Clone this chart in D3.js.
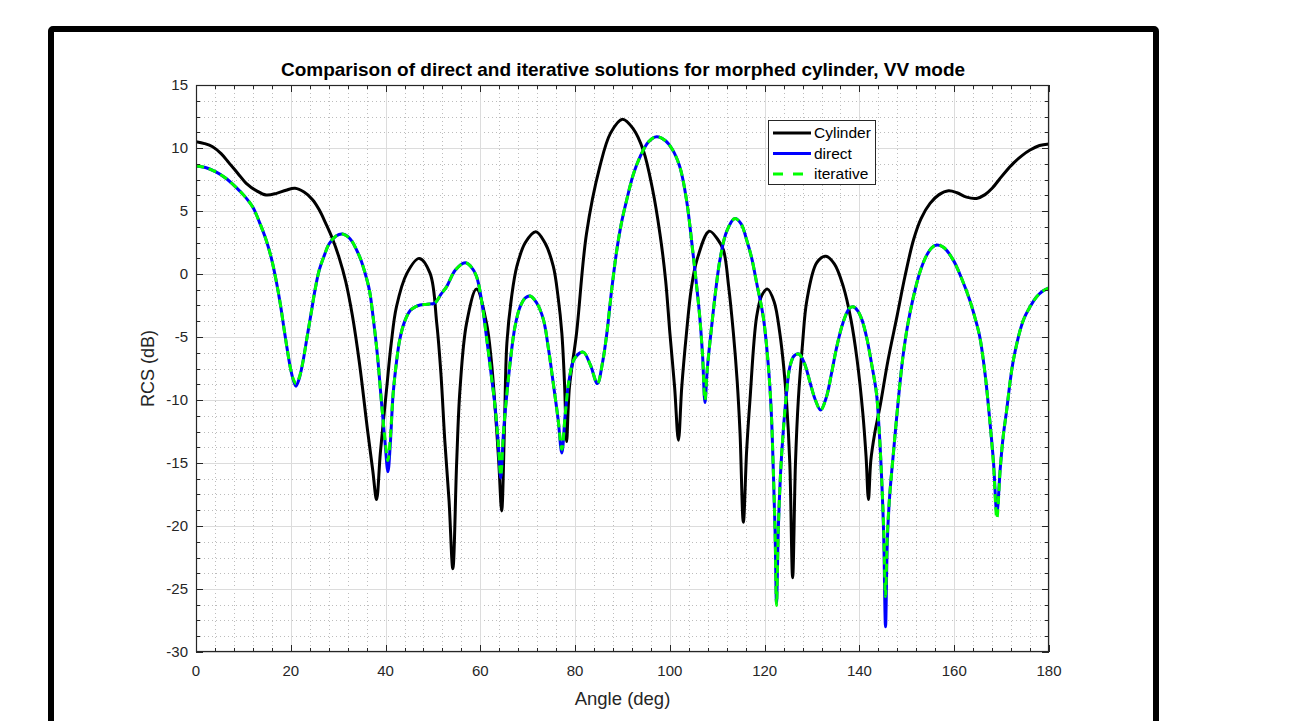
<!DOCTYPE html>
<html>
<head>
<meta charset="utf-8">
<script src="https://cdn.jsdelivr.net/npm/d3@7"></script>
<style>
  html, body { margin: 0; padding: 0; background: #ffffff; }
  svg { display: block; }
  text { font-family: "Liberation Sans", Arial, Helvetica, sans-serif; }
</style>
</head>
<body>
<svg id="chart" width="1302" height="721"></svg>
<script>
// ---------------- data ----------------
const titleText = "Comparison of direct and iterative solutions for morphed cylinder, VV mode";
const xLabelText = "Angle (deg)";
const yLabelText = "RCS (dB)";
const seriesNames = ["Cylinder", "direct", "iterative"];
const xTicks = [0, 20, 40, 60, 80, 100, 120, 140, 160, 180];
const yTicks = [-30, -25, -20, -15, -10, -5, 0, 5, 10, 15];

const cylAngle = [0, 1.8, 3.5, 5.3, 7, 8.8, 10.6, 12.8, 14.8, 17, 19, 20.9, 22.8, 24.6, 26, 27.4, 28.8, 30.2, 31.6, 33, 34.5, 36.2, 37.3, 38.1, 38.9, 40.2, 41.2, 42.3, 44.5, 47.1, 49.4, 50.8, 51.7, 52.5, 53.4, 54.2, 55, 55.7, 57.1, 59.2, 61.3, 62.3, 63.1, 63.9, 64.5, 65.1, 65.6, 66.6, 67.7, 69.5, 71.7, 73.6, 75.4, 76.4, 77.2, 77.8, 78.2, 78.8, 80.3, 82.4, 85.2, 87.5, 90, 92.3, 94.4, 96.3, 97.9, 99.1, 100, 101, 101.8, 102.5, 103.5, 104.5, 105.7, 108.3, 110, 111.3, 112.4, 113.4, 114.2, 114.8, 115.5, 116.2, 116.9, 118.3, 119.4, 120.6, 122, 123.2, 124, 124.6, 125.3, 125.9, 126.5, 127.1, 128, 128.9, 131, 132.9, 134.7, 136.6, 138.2, 139.5, 140.7, 141.4, 141.9, 142.4, 143.2, 144.3, 146, 147.9, 149.6, 151.4, 153, 154.9, 156.8, 158.8, 160.6, 162.6, 164.7, 166.5, 168, 169.5, 170.8, 172.5, 174.3, 176, 178, 180];
const cylRCS = [10.5, 10.35, 10.1, 9.55, 8.8, 8.0, 7.2, 6.6, 6.27, 6.4, 6.65, 6.8, 6.5, 5.9, 5.1, 4.0, 2.8, 1.3, -0.6, -3.3, -7.1, -12.4, -15.6, -17.9, -14.2, -9.2, -5.5, -2.6, 0.05, 1.24, 0.05, -3.9, -8, -13.2, -18, -23.4, -15, -9.2, -3.9, -1.2, -3.9, -6.8, -10.5, -15, -18.8, -12, -5.5, -1.8, 0.6, 2.5, 3.36, 2.5, 0.6, -1.8, -4.7, -9, -13.3, -9, -4.7, 3.2, 8.5, 11.2, 12.28, 11.5, 9.8, 6.8, 3.2, -0.5, -4.7, -9, -13.2, -9, -4.7, -1.2, 1.1, 3.4, 2.8, 1.9, -1, -4.7, -8.5, -12.6, -19.7, -14, -10, -3.4, -1.7, -1.2, -2.2, -4.7, -7.3, -10, -15, -24.1, -15, -10, -5.5, -2.1, 0.9, 1.4, 0.8, -1.0, -3.6, -6.8, -11, -14.5, -17.9, -14.8, -12.7, -10.6, -6.9, -3.4, -0.2, 2.7, 4.4, 5.6, 6.3, 6.6, 6.45, 6.1, 6.0, 6.3, 6.8, 7.5, 8.1, 8.8, 9.4, 9.84, 10.2, 10.32];

const solAngle = [0, 2, 4.2, 6.3, 8.4, 10.2, 12, 13.4, 14.8, 16, 16.9, 17.8, 18.6, 19.3, 20, 20.6, 21.1, 21.7, 22.5, 23.4, 24.3, 25.1, 26, 27, 28.1, 29.5, 30.9, 32.5, 34.5, 35.5, 36.6, 37.4, 38.3, 39.1, 39.9, 40.5, 41, 41.6, 42.3, 43, 44, 45.2, 46.3, 47.3, 48.8, 50.4, 51.7, 52.9, 54.7, 56.8, 58, 59.2, 60.3, 61.3, 62.2, 63.1, 63.8, 64.3, 64.9, 65.6, 66.3, 67.3, 68.4, 69.5, 70.5, 71.9, 73.3, 74.4, 75.4, 76.4, 77.2, 77.9, 78.7, 79.9, 81.7, 83.2, 84.7, 85.8, 86.7, 87.7, 88.8, 89.8, 90.9, 92.2, 93.7, 95.5, 97.2, 99, 100.5, 102.1, 103.5, 104.8, 105.6, 106.3, 106.9, 107.4, 107.9, 108.8, 109.7, 110.6, 112, 113.7, 115, 116.2, 117.3, 118.3, 119.7, 120.8, 121.4, 121.8, 122.2, 122.5, 122.9, 123.4, 123.9, 124.6, 125.3, 126.2, 127.2, 128.3, 129.5, 130.6, 131.8, 133, 134.1, 135.2, 136.5, 137.9, 138.7, 139.6, 140.5, 141.5, 142.6, 143.6, 144.1, 144.6, 145.1, 145.5, 145.9, 146.4, 147.1, 148.2, 149.2, 150.2, 151.4, 152.8, 154.2, 155.3, 156.4, 157.8, 159.8, 161.5, 163.3, 164.4, 165.4, 166.5, 167.5, 168.3, 169, 169.7, 170.3, 171, 172.5, 174.6, 176, 177.4, 178.7, 180];
const directRCS = [8.57, 8.45, 8.1, 7.6, 6.9, 6.2, 5.3, 4.1, 2.7, 1.1, -0.5, -2.4, -4.4, -6.1, -7.6, -8.5, -8.9, -8.4, -7.1, -5.1, -3.1, -1.3, 0.3, 1.4, 2.4, 3.0, 3.17, 2.8, 1.4, 0.3, -1.3, -3.5, -6.5, -10, -13.4, -15.7, -13.5, -9.5, -7, -5.2, -3.8, -2.9, -2.6, -2.46, -2.4, -2.3, -1.6, -1.0, 0.3, 0.9, 0.6, -0.2, -2.2, -5.0, -7.7, -10.5, -13.5, -16.2, -12.5, -9.5, -7.0, -4.2, -2.6, -1.9, -1.75, -2.3, -3.6, -6.0, -8.7, -11.5, -14.2, -11.2, -8.5, -6.7, -6.2, -7.2, -8.7, -7, -4.7, -1.3, 1.9, 4.1, 5.9, 7.8, 9.3, 10.5, 10.9, 10.6, 9.9, 8.5, 5.9, 1.9, -0.8, -3.4, -6.5, -10.2, -7.5, -4.2, -1.2, 1.2, 3.4, 4.4, 4.0, 2.7, 1.2, -0.7, -3.4, -7.4, -11, -15.3, -20.5, -26.1, -20, -15.5, -12.6, -9.5, -7.4, -6.5, -6.35, -7, -8.5, -9.9, -10.8, -9.8, -7.9, -5.8, -3.9, -2.7, -2.6, -2.9, -3.6, -5.0, -7.2, -9.5, -12, -15.5, -20.5, -28, -21, -17.5, -14.5, -10, -6.5, -4, -1.8, 0.2, 1.5, 2.1, 2.3, 2.1, 1.1, -0.3, -2.1, -3.5, -5, -7.9, -11.6, -15, -19.0, -15.5, -13, -11, -6.8, -3.65, -2.6, -1.8, -1.35, -1.1];
const iterativeRCS = [8.57, 8.45, 8.1, 7.6, 6.9, 6.2, 5.3, 4.1, 2.7, 1.1, -0.5, -2.4, -4.4, -6.1, -7.6, -8.4, -8.7, -8.3, -7.1, -5.1, -3.1, -1.3, 0.3, 1.4, 2.4, 3.0, 3.17, 2.8, 1.4, 0.3, -1.3, -3.5, -6.5, -10, -13.2, -14.8, -13.0, -9.5, -7, -5.2, -3.8, -2.9, -2.6, -2.46, -2.4, -2.3, -1.6, -1.0, 0.3, 0.9, 0.6, -0.2, -2.2, -5.0, -7.7, -10.5, -13.5, -16.0, -12.5, -9.5, -7.0, -4.2, -2.6, -1.9, -1.75, -2.3, -3.6, -6.0, -8.7, -11.5, -13.9, -11.2, -8.5, -6.7, -6.2, -7.2, -8.7, -7, -4.7, -1.3, 1.9, 4.1, 5.9, 7.8, 9.3, 10.5, 10.9, 10.6, 9.9, 8.5, 5.9, 1.9, -0.8, -3.4, -6.5, -10.0, -7.5, -4.2, -1.2, 1.2, 3.4, 4.4, 4.0, 2.7, 1.2, -0.7, -3.4, -7.4, -11, -15.3, -20.5, -26.3, -20, -15.5, -12.6, -9.5, -7.4, -6.5, -6.35, -7, -8.5, -9.9, -10.8, -9.8, -7.9, -5.8, -3.9, -2.7, -2.6, -2.9, -3.6, -5.0, -7.2, -9.5, -12, -15.5, -20, -25.6, -20.5, -17.5, -14.5, -10, -6.5, -4, -1.8, 0.2, 1.5, 2.1, 2.3, 2.1, 1.1, -0.3, -2.1, -3.5, -5, -7.9, -11.6, -15.2, -19.4, -15.5, -13, -11, -6.8, -3.65, -2.6, -1.8, -1.35, -1.1];

// ---------------- drawing ----------------
const svg = d3.select("#chart");
const axisColor = "#262626";
const L = 196, R = 1049, T = 85, B = 652;

// outer figure frame
svg.append("rect")
  .attr("x", 51).attr("y", 29).attr("width", 1105).attr("height", 760)
  .attr("rx", 2)
  .attr("fill", "none").attr("stroke", "#000").attr("stroke-width", 6);

const x = d3.scaleLinear().domain([0, 180]).range([L, R]);
const y = d3.scaleLinear().domain([-30, 15]).range([B, T]);

const xMinor = d3.range(0, 180.001, 4);
const yMinor = d3.range(-30, 15.001, 1.25);

const grid = svg.append("g");
grid.selectAll("line.xmin").data(xMinor.filter(v => !xTicks.includes(v))).join("line")
  .attr("x1", d => Math.round(x(d)) + 0.5).attr("x2", d => Math.round(x(d)) + 0.5)
  .attr("y1", T).attr("y2", B)
  .attr("stroke", "#bcbcbc").attr("stroke-width", 1).attr("stroke-dasharray", "1,3");
grid.selectAll("line.ymin").data(yMinor.filter(v => !yTicks.includes(v))).join("line")
  .attr("y1", d => Math.round(y(d)) + 0.5).attr("y2", d => Math.round(y(d)) + 0.5)
  .attr("x1", L).attr("x2", R)
  .attr("stroke", "#bcbcbc").attr("stroke-width", 1).attr("stroke-dasharray", "1,3");
grid.selectAll("line.xmaj").data(xTicks).join("line")
  .attr("x1", d => Math.round(x(d)) + 0.5).attr("x2", d => Math.round(x(d)) + 0.5)
  .attr("y1", T).attr("y2", B)
  .attr("stroke", "#dcdcdc").attr("stroke-width", 1);
grid.selectAll("line.ymaj").data(yTicks).join("line")
  .attr("y1", d => Math.round(y(d)) + 0.5).attr("y2", d => Math.round(y(d)) + 0.5)
  .attr("x1", L).attr("x2", R)
  .attr("stroke", "#dcdcdc").attr("stroke-width", 1);

// curves
svg.append("clipPath").attr("id", "plotclip")
  .append("rect").attr("x", L).attr("y", T).attr("width", R - L).attr("height", B - T);

const lineGen = d3.line()
  .x(d => x(d[0])).y(d => y(d[1]))
  .curve(d3.curveCatmullRom.alpha(0.5));

const curves = svg.append("g").attr("clip-path", "url(#plotclip)");
curves.append("path").datum(d3.zip(cylAngle, cylRCS))
  .attr("d", lineGen).attr("fill", "none").attr("stroke", "#000").attr("stroke-width", 3)
  .attr("stroke-linejoin", "round");
curves.append("path").datum(d3.zip(solAngle, directRCS))
  .attr("d", lineGen).attr("fill", "none").attr("stroke", "#0000ff").attr("stroke-width", 3)
  .attr("stroke-linejoin", "round");
curves.append("path").datum(d3.zip(solAngle, iterativeRCS))
  .attr("d", lineGen).attr("fill", "none").attr("stroke", "#00ff00").attr("stroke-width", 3)
  .attr("stroke-dasharray", "8,5").attr("stroke-linejoin", "round");

// axes box and ticks
const axes = svg.append("g");
axes.append("rect").attr("x", L + 0.5).attr("y", T + 0.5).attr("width", R - L - 1).attr("height", B - T - 1)
  .attr("fill", "none").attr("stroke", axisColor).attr("stroke-width", 1.2);

function tickLen(isMajor) { return isMajor ? 7 : 4; }
xMinor.forEach(v => {
  const major = xTicks.includes(v);
  const px = Math.round(x(v)) + 0.5;
  axes.append("line").attr("x1", px).attr("x2", px).attr("y1", B).attr("y2", B - tickLen(major)).attr("stroke", axisColor);
  axes.append("line").attr("x1", px).attr("x2", px).attr("y1", T).attr("y2", T + tickLen(major)).attr("stroke", axisColor);
});
yMinor.forEach(v => {
  const major = yTicks.includes(v);
  const py = Math.round(y(v)) + 0.5;
  axes.append("line").attr("y1", py).attr("y2", py).attr("x1", L).attr("x2", L + tickLen(major)).attr("stroke", axisColor);
  axes.append("line").attr("y1", py).attr("y2", py).attr("x1", R).attr("x2", R - tickLen(major)).attr("stroke", axisColor);
});

// tick labels
axes.selectAll("text.xt").data(xTicks).join("text")
  .attr("x", d => x(d)).attr("y", B + 24)
  .attr("text-anchor", "middle").attr("font-size", 15).attr("fill", axisColor)
  .text(d => d);
axes.selectAll("text.yt").data(yTicks).join("text")
  .attr("x", L - 8).attr("y", d => y(d) + 5)
  .attr("text-anchor", "end").attr("font-size", 15).attr("fill", axisColor)
  .text(d => d);

// labels and title
svg.append("text").attr("x", (L + R) / 2).attr("y", 705)
  .attr("text-anchor", "middle").attr("font-size", 18.5).attr("fill", axisColor).text(xLabelText);
svg.append("text").attr("transform", `translate(154, ${(T + B) / 2}) rotate(-90)`)
  .attr("text-anchor", "middle").attr("font-size", 18).attr("fill", axisColor).text(yLabelText);
svg.append("text").attr("x", 623).attr("y", 76)
  .attr("text-anchor", "middle").attr("font-size", 19).attr("font-weight", "bold").attr("fill", "#000").text(titleText);

// legend
const leg = svg.append("g");
leg.append("rect").attr("x", 768.5).attr("y", 120.5).attr("width", 107).attr("height", 64)
  .attr("fill", "#fff").attr("stroke", axisColor).attr("stroke-width", 1);
const legStyles = [
  { c: "#000", dash: null },
  { c: "#0000ff", dash: null },
  { c: "#00ff00", dash: "10,10" }
];
seriesNames.forEach((name, i) => {
  const yy = 133 + i * 20.5;
  const ln = leg.append("line").attr("x1", 773).attr("x2", 811).attr("y1", yy).attr("y2", yy)
    .attr("stroke", legStyles[i].c).attr("stroke-width", 3);
  if (legStyles[i].dash) ln.attr("stroke-dasharray", legStyles[i].dash);
  leg.append("text").attr("x", 814).attr("y", yy + 5).attr("font-size", 15.5).attr("fill", "#000").text(name);
});
</script>
</body>
</html>
